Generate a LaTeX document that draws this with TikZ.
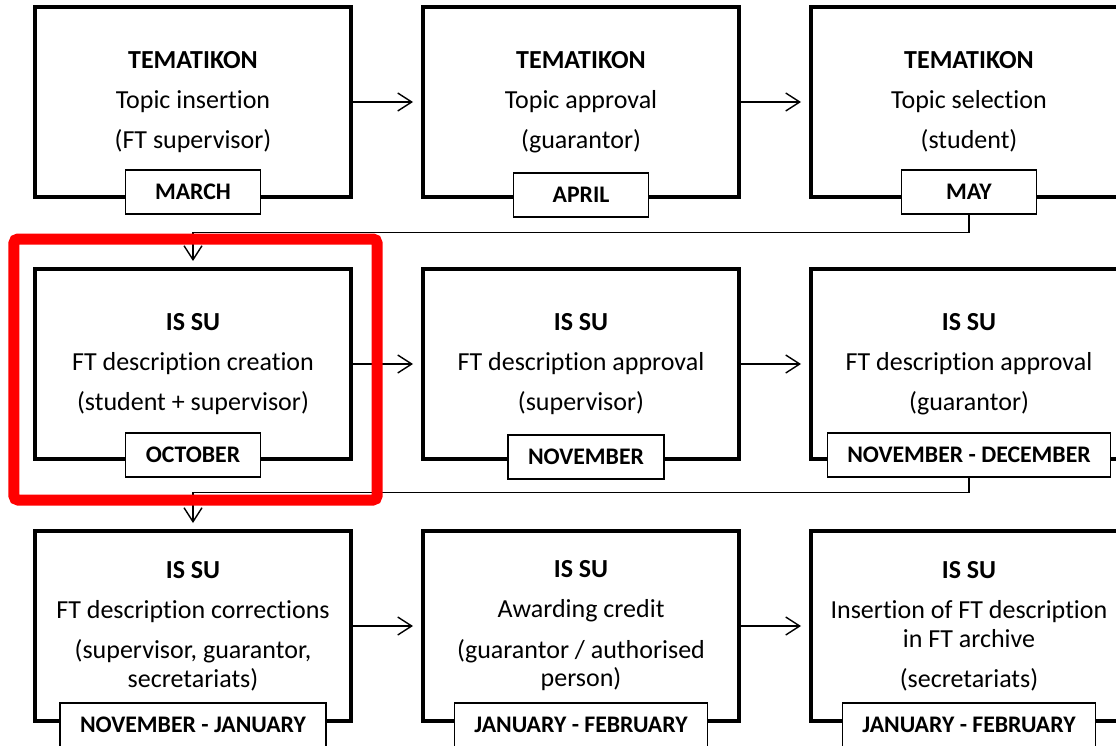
\documentclass[tikz,border=0pt]{standalone}
\usepackage{fontspec}
\setmainfont{Carlito}[Ligatures=NoCommon]
\usetikzlibrary{positioning,arrows.meta}
\newcommand\stagefont{\fontsize{18.5}{20.6}\selectfont}
\newcommand\monthfont{\fontsize{16.9}{20.6}\selectfont\bfseries}

\begin{document}
\begin{tikzpicture}[node distance=1.7cm,
    stage/.style={draw,line width=0.1cm,minimum width=7.9cm,minimum height=4.75cm,align=center,font=\stagefont},
    month/.style={draw,fill=white,line width=0.035cm,minimum width=3.375cm,minimum height=1.1cm,inner xsep=0.5cm,font=\monthfont},
    arr/.style={-{Straight Barb[length=0.35cm,width=0.45cm]},line width=0.035cm,shorten >=0.2cm},
    hilite/.style={draw=red,line width=0.275cm,rounded corners=0.1cm}]
    \useasboundingbox (0,0) rectangle (27.9,-18.65);
    \clip (0,0) rectangle (27.9,-18.65);
                \node[stage](a) at (4.825,-2.55){\textbf{TEMATIKON}\\[7.9pt]Topic insertion\\[7.9pt](FT supervisor)};
                \node[stage](b)[right =of a]{\textbf{TEMATIKON}\\[7.9pt]Topic approval\\[7.9pt](guarantor)};
                \node[stage](c)[right =of b]{\textbf{TEMATIKON}\\[7.9pt]Topic selection\\[7.9pt](student)};
                \node[stage](d)[below =of a]{\textbf{IS SU}\\[7.9pt]FT description creation\\[7.9pt](student + supervisor)};
    \node[stage](e)[right =of d]{\textbf{IS SU}\\[7.9pt]FT description approval\\[7.9pt](supervisor)};
    \node[stage](f)[right =of e]{\textbf{IS SU}\\[7.9pt]FT description approval\\[7.9pt](guarantor)};
    \node[stage](g)[below =of d]{\textbf{IS SU}\\[7.9pt]FT description corrections\\[7.9pt](supervisor, guarantor,\\secretariats)};
    \node[stage](h)[right =of g]{\textbf{IS SU}\\[7.9pt]Awarding credit\\[7.9pt](guarantor / authorised\\person)};
    \node[stage](i)[right =of h]{\textbf{IS SU}\\[7.9pt]Insertion of FT description\\in FT archive\\[7.9pt](secretariats)};
    \node[month,yshift=0.175cm](ma) at (a.south){MARCH};
    \node[month,yshift=0.1cm](mb) at (b.south){APRIL};
    \node[month,yshift=0.175cm](mc) at (c.south){MAY};
    \node[month,yshift=0.15cm](md) at (d.south){OCTOBER};
    \node[month,yshift=0.1cm,xshift=0.125cm](me) at (e.south){NOVEMBER};
    \node[month,yshift=0.15cm](mf) at (f.south){NOVEMBER - DECEMBER};
    \node[month,yshift=-0.05cm](mg) at (g.south){NOVEMBER - JANUARY};
    \node[month,yshift=-0.05cm](mh) at (h.south){JANUARY - FEBRUARY};
    \node[month,yshift=-0.05cm](mi) at (i.south){JANUARY - FEBRUARY};
    \path[arr](a) edge (b)
              (b) edge (c)
              (d) edge (e)
              (e) edge (f)
              (g) edge (h)
              (h) edge (i);
    \draw[arr,shorten >=0.15cm](mc.south) -- ++(0,-0.45) -| (d.north);
    \draw[arr,shorten >=0.15cm](mf.south) -- ++(0,-0.375) -| (g.north);
    \draw[hilite]([shift={(-0.475,0.7)}]d.north west) rectangle ([shift={(0.6,-0.975)}]d.south east);
\end{tikzpicture}
\end{document}
